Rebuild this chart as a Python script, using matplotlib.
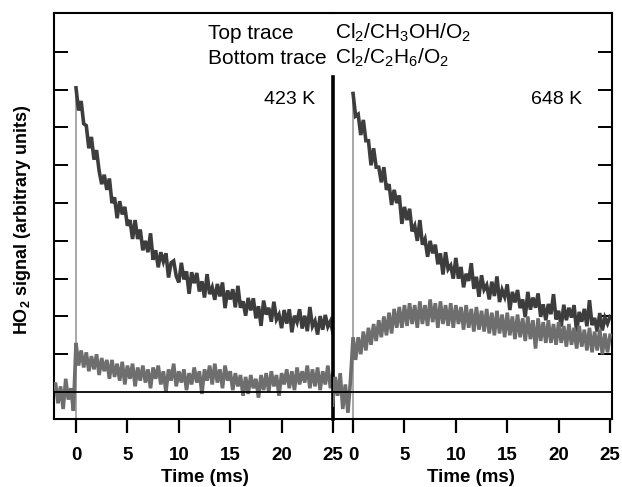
import matplotlib
matplotlib.use('Agg')
import matplotlib.pyplot as plt
import numpy as np

plt.rcParams['font.family'] = ['Liberation Sans', 'DejaVu Sans']
plt.rcParams['mathtext.fontset'] = 'custom'
plt.rcParams['mathtext.rm'] = 'Liberation Sans'
plt.rcParams['mathtext.bf'] = 'Liberation Sans:bold'
plt.rcParams['mathtext.it'] = 'Liberation Sans:italic'
plt.rcParams['mathtext.default'] = 'regular'

# ---------------- data ----------------
time_post = np.linspace(0, 25, 101)            # ms, 0.25 ms sampling
time_pre_left = [-2.25, -2.0, -1.75, -1.5, -1.25, -1.0, -0.75, -0.5, -0.25]
time_pre_right = [-2.0, -1.75, -1.5, -1.25, -1.0, -0.75, -0.5, -0.25]

# 423 K, top trace (Cl2/CH3OH/O2)
top_423 = [8.05, 7.45, 7.70, 7.10, 7.05, 6.45, 6.75, 6.15, 6.40, 5.85,
           5.50, 5.75, 5.35, 5.65, 5.00, 5.15, 4.60, 5.05, 4.70, 4.90,
           4.40, 4.55, 4.05, 4.55, 4.05, 4.30, 3.75, 4.00, 3.70, 4.20,
           3.50, 3.75, 3.30, 3.70, 3.45, 3.67, 3.03, 3.42, 3.47, 3.07,
           2.90, 3.42, 2.98, 3.19, 2.60, 3.17, 2.88, 3.15, 2.66, 2.93,
           2.50, 3.12, 2.59, 2.77, 2.44, 2.86, 2.53, 2.90, 2.22, 2.69,
           2.45, 2.72, 2.24, 2.81, 2.23, 2.40, 2.02, 2.49, 2.16, 2.48,
           1.95, 2.27, 1.75, 2.42, 2.05, 2.23, 1.86, 2.39, 1.92, 2.05,
           1.69, 2.17, 1.81, 2.19, 1.58, 2.02, 1.85, 2.19, 1.68, 2.02,
           1.61, 2.25, 1.74, 1.88, 1.52, 2.01, 1.65, 2.04, 1.73, 1.87,
           1.56]

# 423 K, bottom trace (Cl2/C2H6/O2)
bottom_423_pre = [0.05, 0.25, -0.30, 0.15, -0.45, 0.35, -0.20, 0.10, -0.50]
bottom_423 = [1.30, 0.70, 1.10, 0.65, 1.05, 0.55, 0.95, 0.60, 1.00, 0.45,
              0.90, 0.55, 0.85, 0.35, 0.85, 0.40, 0.75, 0.30, 0.80, 0.20,
              0.70, 0.35, 0.75, 0.15, 0.65, 0.30, 0.70, 0.25, 0.60, 0.10,
              0.65, 0.35, 0.70, 0.20, 0.55, 0.00, 0.60, 0.30, 0.75, 0.15,
              0.55, 0.25, 0.60, 0.05, 0.50, 0.20, 0.65, 0.25, 0.55, -0.05,
              0.60, 0.30, 0.70, 0.20, 0.75, 0.25, 0.60, 0.10, 0.70, 0.30,
              0.55, 0.05, 0.50, 0.15, 0.45, -0.10, 0.40, -0.05, 0.45, 0.10,
              0.35, -0.15, 0.45, 0.05, 0.50, 0.00, 0.55, 0.15, 0.45, -0.10,
              0.50, 0.20, 0.60, 0.10, 0.55, 0.05, 0.65, 0.20, 0.55, 0.25,
              0.70, 0.10, 0.60, 0.15, 0.65, 0.05, 0.55, 0.20, 0.70, 0.10,
              0.50]

# 648 K, top trace (Cl2/CH3OH/O2)
top_648 = [7.90, 7.30, 7.35, 6.80, 7.20, 6.65, 6.65, 6.00, 6.45, 5.95,
           5.95, 5.55, 5.95, 5.35, 5.50, 4.95, 5.35, 5.00, 5.20, 4.45,
           4.90, 4.55, 4.85, 4.25, 4.40, 4.00, 4.55, 3.90, 4.05, 3.58,
           4.00, 3.67, 3.90, 3.38, 3.67, 3.11, 3.70, 3.25, 3.35, 3.00,
           3.55, 3.00, 3.31, 2.77, 3.13, 2.94, 3.41, 2.73, 3.05, 2.52,
           3.09, 2.71, 2.83, 2.45, 2.92, 2.54, 3.06, 2.38, 2.70, 2.52,
           2.85, 2.17, 2.65, 2.37, 2.70, 2.22, 2.45, 1.98, 2.65, 2.18,
           2.50, 2.23, 2.61, 1.99, 2.32, 1.90, 2.33, 2.06, 2.59, 1.92,
           2.15, 1.73, 2.31, 1.90, 2.23, 1.97, 2.30, 1.59, 2.12, 1.86,
           2.20, 1.74, 2.43, 1.77, 1.96, 1.60, 2.09, 1.63, 1.97, 1.81,
           2.00]

# 648 K, bottom trace (Cl2/C2H6/O2)
bottom_648_pre = [-0.35, 0.40, -0.10, 0.50, -0.45, 0.20, -0.55, 0.30]
bottom_648 = [1.45, 0.85, 1.45, 1.00, 1.60, 1.10, 1.70, 1.25, 1.80, 1.35,
              1.90, 1.45, 2.00, 1.50, 2.10, 1.55, 2.20, 1.70, 2.25, 1.70,
              2.30, 1.75, 2.35, 1.80, 2.30, 1.70, 2.40, 1.80, 2.30, 1.75,
              2.45, 1.85, 2.35, 1.70, 2.40, 1.80, 2.30, 1.75, 2.35, 1.70,
              2.30, 1.80, 2.25, 1.65, 2.30, 1.70, 2.20, 1.60, 2.25, 1.65,
              2.15, 1.60, 2.20, 1.55, 2.10, 1.50, 2.15, 1.55, 2.05, 1.45,
              2.10, 1.50, 2.00, 1.40, 2.05, 1.45, 1.95, 1.35, 2.00, 1.40,
              1.90, 1.15, 1.95, 1.35, 1.85, 1.30, 1.90, 1.30, 1.80, 1.25,
              1.85, 1.30, 1.75, 1.20, 1.80, 1.25, 1.70, 1.15, 1.75, 1.20,
              1.65, 1.10, 1.70, 1.05, 1.60, 1.10, 1.65, 1.00, 1.55, 1.05,
              1.50]

x_ticks = [0, 5, 10, 15, 20, 25]
y_ticks = [1, 2, 3, 4, 5, 6, 7, 8, 9]
temps = ['423 K', '648 K']

# ---------------- figure ----------------
W, H = 622, 487
fig = plt.figure(figsize=(W / 100, H / 100), dpi=100)

def fx(px):
    return px / W

def fy(py):
    return 1 - py / H

ax_bottom, ax_top = 419, 13
axL = fig.add_axes([fx(54), fy(ax_bottom), fx(333) - fx(54), fy(ax_top) - fy(ax_bottom)])
axR = fig.add_axes([fx(333), fy(ax_bottom), fx(612) - fx(333), fy(ax_top) - fy(ax_bottom)])
axR.patch.set_alpha(0)

ylo, yhi = -0.714, 10.03
top_col = '#3d3d3d'
bot_col = '#6e6e6e'
vline_col = '#9a9a9a'

panels = [
    (axL, (-2.14, 25.0), top_423, time_pre_left, bottom_423_pre, bottom_423),
    (axR, (-1.95, 25.19), top_648, time_pre_right, bottom_648_pre, bottom_648),
]

for ax, xl, top, tpre, bpre, bpost in panels:
    ax.set_xlim(*xl)
    ax.set_ylim(ylo, yhi)
    ax.axhline(0, color='black', lw=1.3, zorder=5)
    ax.vlines(0, ylo, top[0], color=vline_col, lw=1.2, zorder=1)
    ax.plot(time_post, top, color=top_col, lw=2.6, zorder=2,
            solid_joinstyle='miter')
    ax.plot(list(tpre) + list(time_post), list(bpre) + list(bpost),
            color=bot_col, lw=2.6, zorder=3, solid_joinstyle='miter')
    ax.set_xticks(x_ticks)
    ax.set_xticklabels([str(v) for v in x_ticks], fontweight='bold')
    ax.set_yticks(y_ticks)
    ax.tick_params(axis='x', direction='out', length=10, width=1.6,
                   labelsize=13.5, pad=10)
    for s in ax.spines.values():
        s.set_linewidth(1.5)

axL.spines['right'].set_visible(False)
axR.spines['left'].set_visible(False)
axL.tick_params(axis='y', direction='in', length=10, width=1.4,
                left=True, right=False, labelleft=False)
axR.tick_params(axis='y', direction='in', length=10, width=1.4,
                left=False, right=True, labelleft=False, labelright=False)

# divider between the two panels
axL.plot([25, 25], [ylo, 8.33], color='black', lw=2.6, clip_on=False, zorder=6)

# x labels
for ax, cx in [(axL, 205), (axR, 471)]:
    fig.text(fx(cx), fy(478), 'Time (ms)', ha='center', va='center',
             fontsize=13.5, fontweight='bold')

# y label
fig.text(fx(23), fy(220), r'HO$_\mathbf{2}$ signal (arbitrary units)', rotation=90,
         ha='center', va='center', fontsize=13, fontweight='bold')

# annotations
fig.text(fx(208), fy(33), 'Top trace', ha='left', va='center', fontsize=15)
fig.text(fx(208), fy(58), 'Bottom trace', ha='left', va='center', fontsize=15)
fig.text(fx(335), fy(33), 'Cl$_2$/CH$_3$OH/O$_2$', ha='left', va='center', fontsize=15)
fig.text(fx(335), fy(58), 'Cl$_2$/C$_2$H$_6$/O$_2$', ha='left', va='center', fontsize=15)
fig.text(fx(290), fy(100), temps[0], ha='center', va='center', fontsize=14)
fig.text(fx(557), fy(100), temps[1], ha='center', va='center', fontsize=14)

fig.savefig('out.png', dpi=100)
